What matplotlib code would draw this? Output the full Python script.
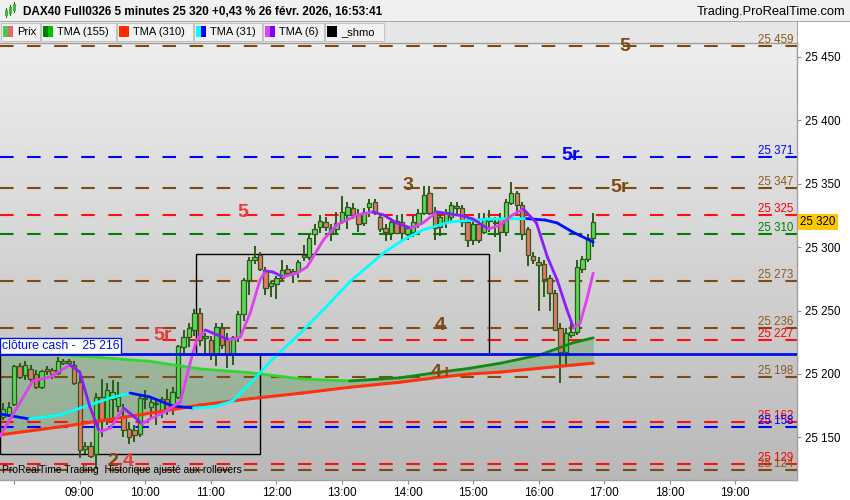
import matplotlib
matplotlib.use("Agg")
import matplotlib.pyplot as plt
import matplotlib.transforms as mtransforms
from matplotlib.patches import Rectangle
from matplotlib.collections import LineCollection
from matplotlib.colors import LinearSegmentedColormap
import numpy as np

plt.rcParams['font.family'] = ['Liberation Sans', 'DejaVu Sans']

# ---- data ----
first_bar = "07:50"   # 5 minute bars
opens = [25166, 25168, 25176, 25206, 25199, 25204, 25200, 25190, 25204, 25203,
         25201, 25209, 25210, 25207, 25194, 25141, 25143, 25137, 25182, 25164,
         25180, 25175, 25166, 25157, 25156, 25153, 25180, 25174, 25176, 25170,
         25180, 25172, 25182, 25221, 25229, 25235, 25248, 25228, 25227, 25216,
         25236, 25228, 25216, 25229, 25247, 25274, 25290, 25294, 25282, 25269,
         25271, 25276, 25283, 25280, 25281, 25292, 25292, 25310, 25316, 25320,
         25311, 25314, 25321, 25325, 25331, 25325, 25319, 25332, 25336, 25324,
         25315, 25311, 25321, 25320, 25310, 25312, 25318, 25327, 25343, 25328,
         25316, 25320, 25324, 25332, 25331, 25320, 25306, 25318, 25312, 25321,
         25320, 25323, 25312, 25335, 25343, 25333, 25314, 25293, 25288, 25287,
         25276, 25264, 25236, 25217, 25231, 25233, 25283, 25291, 25307]
highs = [25177, 25178, 25207, 25209, 25210, 25207, 25203, 25203, 25206, 25205,
         25213, 25212, 25212, 25210, 25200, 25146, 25146, 25185, 25196, 25193,
         25195, 25194, 25176, 25162, 25160, 25183, 25187, 25180, 25181, 25182,
         25188, 25190, 25223, 25235, 25240, 25251, 25252, 25232, 25230, 25240,
         25240, 25232, 25230, 25250, 25276, 25292, 25301, 25296, 25284, 25273,
         25277, 25290, 25286, 25283, 25290, 25302, 25310, 25318, 25325, 25324,
         25318, 25328, 25340, 25336, 25335, 25330, 25331, 25338, 25338, 25327,
         25318, 25323, 25325, 25326, 25317, 25325, 25330, 25348, 25348, 25332,
         25328, 25330, 25336, 25336, 25333, 25323, 25322, 25327, 25327, 25329,
         25324, 25327, 25338, 25351, 25344, 25336, 25316, 25296, 25292, 25290,
         25278, 25266, 25240, 25236, 25240, 25290, 25293, 25310, 25327]
lows = [25164, 25166, 25175, 25196, 25195, 25194, 25188, 25188, 25199, 25196,
        25199, 25207, 25207, 25191, 25134, 25137, 25134, 25125, 25150, 25160,
        25161, 25170, 25150, 25145, 25146, 25150, 25172, 25165, 25160, 25165,
        25168, 25168, 25180, 25216, 25221, 25230, 25222, 25215, 25211, 25206,
        25220, 25205, 25207, 25225, 25242, 25262, 25287, 25281, 25262, 25261,
        25259, 25273, 25277, 25272, 25276, 25289, 25290, 25302, 25311, 25313,
        25305, 25311, 25318, 25314, 25322, 25312, 25317, 25324, 25325, 25312,
        25305, 25306, 25310, 25306, 25306, 25308, 25315, 25325, 25325, 25306,
        25309, 25315, 25320, 25326, 25316, 25300, 25302, 25303, 25310, 25312,
        25308, 25296, 25309, 25333, 25325, 25306, 25285, 25287, 25250, 25261,
        25250, 25234, 25193, 25206, 25228, 25231, 25280, 25288, 25300]
closes = [25172, 25174, 25206, 25198, 25207, 25196, 25190, 25202, 25202, 25200,
          25210, 25210, 25209, 25193, 25140, 25143, 25135, 25182, 25163, 25187,
          25186, 25182, 25156, 25150, 25152, 25181, 25180, 25178, 25177, 25180,
          25172, 25186, 25222, 25229, 25236, 25248, 25227, 25230, 25215, 25237,
          25223, 25216, 25229, 25247, 25274, 25290, 25292, 25283, 25268, 25272,
          25276, 25282, 25280, 25281, 25288, 25294, 25307, 25314, 25321, 25316,
          25315, 25319, 25328, 25332, 25325, 25318, 25328, 25335, 25327, 25314,
          25312, 25320, 25311, 25311, 25315, 25320, 25327, 25341, 25327, 25315,
          25324, 25328, 25333, 25331, 25320, 25306, 25318, 25306, 25323, 25322,
          25319, 25312, 25336, 25343, 25333, 25310, 25294, 25290, 25286, 25275,
          25264, 25235, 25217, 25232, 25233, 25284, 25291, 25307, 25320]

# triangular moving averages (green 155 and red 310 share the same read-out times)
tma_long_times = ["07:47", "08:48", "09:18", "10:04", "10:50", "11:36", "12:24", "13:07",
                  "13:53", "14:30", "14:57", "15:25", "16:01", "16:31", "16:50"]
tma155 = [25217, 25215, 25213, 25210, 25204, 25201, 25196, 25194.5,
          25197, 25201.5, 25204.5, 25208.5, 25215, 25224.5, 25228.5]
tma310 = [25152, 25159, 25163, 25169, 25175.5, 25180.5, 25185, 25189.5,
          25193.5, 25197.5, 25200, 25201.5, 25204.5, 25207, 25208.5]

tma31_times = ["07:47", "08:14", "08:42", "09:09", "09:28", "09:46", "10:04", "10:25",
               "10:44", "11:02", "11:20", "11:39", "11:54", "12:22", "12:49", "13:07",
               "13:38", "13:56", "14:14", "14:39", "15:15", "15:49", "16:06", "16:17",
               "16:31", "16:50"]
tma31 = [25168.5, 25164.5, 25167.7, 25175.6, 25181.1, 25185.0, 25181.9, 25174.8,
         25173.2, 25174.0, 25178.7, 25195.3, 25209.5, 25232.3, 25256.0, 25272.6,
         25295.4, 25305.7, 25313.6, 25319.9, 25322.2, 25322.5, 25321.4, 25319.1,
         25312.0, 25304.1]

tma6_times = ["07:47", "08:17", "08:33", "08:51", "09:00", "09:09", "09:18", "09:28",
              "09:40", "09:49", "09:57", "10:04", "10:16", "10:32", "10:41", "10:47",
              "10:55", "11:06", "11:17", "11:27", "11:36", "11:45", "11:50", "11:57",
              "12:06", "12:19", "12:28", "12:43", "12:55", "13:14", "13:28", "13:38",
              "13:50", "14:03", "14:14", "14:27", "14:39", "14:51", "15:00", "15:14",
              "15:25", "15:36", "15:46", "15:58", "16:08", "16:17", "16:26", "16:32",
              "16:38", "16:44", "16:50"]
tma6 = [25151.0, 25194.5, 25197.6, 25207.1, 25201.6, 25174.8, 25154.3, 25157.4,
        25173.2, 25166.9, 25160.6, 25164.5, 25169.2, 25177.9, 25208.7, 25226.8,
        25234.7, 25230.8, 25226.8, 25229.2, 25248.1, 25274.1, 25281.2, 25280.4,
        25276.5, 25279.6, 25284.4, 25305.7, 25317.5, 25325.4, 25327.8, 25325.4,
        25319.1, 25315.1, 25319.1, 25327.8, 25326.2, 25324.6, 25322.2, 25314.3,
        25317.5, 25325.4, 25330.1, 25319.1, 25292.3, 25274.1, 25250.5, 25236.3,
        25240.2, 25258.4, 25279.6]

brown_levels = [25459, 25347, 25273, 25236, 25198, 25124]
red_levels = [25325, 25227, 25162, 25129]
blue_levels = [25371, 25158]
green_levels = [25310]
cash_close = 25216
last_price = 25320

# zones drawn as rectangles: (start, end, low, high)
zone_starts = ["07:47", "10:46"]
zone_ends = ["11:45", "15:15"]
zone_lows = [25137, 25216]
zone_highs = [25216, 25295]

mark_texts = ["5", "5r", "3", "5r", "5", "5r", "4", "4+", "2", "4"]
mark_times = ["17:19", "16:29", "14:00", "17:14", "11:29", "10:16", "14:30", "14:31", "09:30", "09:44"]
mark_prices = [25458, 25372, 25349, 25347, 25327, 25230, 25238, 25201, 25131, 25131]

hour_ticks = list(range(8, 20))
y_ticks = [25150, 25200, 25250, 25300, 25350, 25400, 25450]


def to_min(s):
    h, m = s.split(":")
    return int(h) * 60 + int(m)


def fmt_price(p):
    p = int(round(p))
    return f"{p // 1000} {p % 1000:03d}"


BROWN = '#7f4a0f'
RED = '#ff1010'
BLUE = '#0000ff'
GREEN = '#008000'
DARK = '#2c5a18'

W, H = 850, 500
fig = plt.figure(figsize=(W / 100, H / 100), dpi=100)


def px_box(x, y, w, h, **kw):
    fig.add_artist(Rectangle((x / W, 1 - (y + h) / H), w / W, h / H,
                             transform=fig.transFigure, **kw))


def px_text(x, y, s, **kw):
    fig.text(x / W, 1 - y / H, s, **kw)


# ---- header rows ----
px_box(0, 0, 850, 21, facecolor='#f0f0f0', edgecolor='none')
px_box(0, 21, 850, 1, facecolor='#a8a8a8', edgecolor='none')
px_box(0, 22, 797, 21, facecolor='#e6e6e6', edgecolor='none')
px_box(797, 22, 1, 21, facecolor='#a8a8a8', edgecolor='none')
# little candle icon
for cx, cy, ch in [(5, 10, 6), (9, 7, 7), (13, 4, 7)]:
    px_box(cx + 1, cy - 2, 0.8, ch + 4, facecolor=DARK, edgecolor='none')
    px_box(cx, cy, 3, ch, facecolor='#3cb83c', edgecolor='none')
px_text(23, 12, "DAX40 Full0326 5 minutes 25 320 +0,43 % 26 févr. 2026, 16:53:41",
        fontsize=8.5, fontweight='bold', va='center', ha='left')
px_text(845, 12, "Trading.ProRealTime.com", fontsize=9.3, va='center', ha='right')

legend_items = [("Prix", '#4fc84f', '#e06a6a', 0, 39),
                ("TMA (155)", '#008000', '#00c000', 40, 75),
                ("TMA (310)", '#ff2a00', '#ff2a00', 116, 76),
                ("TMA (31)", '#00ffff', '#0000ff', 193, 68),
                ("TMA (6)", '#dd44ff', '#8000ff', 262, 61),
                ("_shmo", '#000000', '#000000', 324, 59)]
for label, c1, c2, bx, bw in legend_items:
    px_box(bx + 0.5, 23, bw, 18, facecolor='#f2f2f2', edgecolor='#c4c4c4', lw=0.8)
    px_box(bx + 3, 26, 5, 11, facecolor=c1, edgecolor='none')
    px_box(bx + 8, 26, 5, 11, facecolor=c2, edgecolor='none')
    px_text(bx + 17, 32, label, fontsize=8, va='center', ha='left')

# ---- main price panel ----
ax = fig.add_axes([0, 20 / H, 797 / W, 437 / H])
ax.set_zorder(3)
x_lo, x_hi = to_min("07:47"), to_min("19:56") + 0.5
y_lo, y_hi = 25116.4, 25461.0

bg = LinearSegmentedColormap.from_list('bg', ['#b9b9b9', '#eeeeee'])
ax.imshow(np.linspace(0, 1, 256).reshape(-1, 1), extent=(x_lo, x_hi, y_lo, y_hi),
          origin='lower', aspect='auto', cmap=bg, zorder=0)

n = len(closes)
t_bar = to_min(first_bar) + 5 * np.arange(n)
t_long = np.array([to_min(s) for s in tma_long_times])
t31 = np.array([to_min(s) for s in tma31_times])
t6 = np.array([to_min(s) for s in tma6_times])

# fill between long averages
ax.fill_between(t_long, tma155, tma310, color='#2e8b2e', alpha=0.28, lw=0, zorder=1)

# horizontal levels
dash = (0, (6.5, 6.5))
for levels, col, lab_col in [(brown_levels, BROWN, '#8a5a26'), (red_levels, RED, '#ff0000'),
                             (blue_levels, BLUE, '#0000ff'), (green_levels, GREEN, '#008000')]:
    for p in levels:
        ax.axhline(p, color=col, lw=1.5, linestyle=dash, zorder=2)
        ax.text(793 / 797, p, fmt_price(p), transform=ax.get_yaxis_transform(),
                ha='right', va='bottom', fontsize=8.3, color=lab_col, zorder=6)

# zone rectangles
for s, e, lo, hi in zip(zone_starts, zone_ends, zone_lows, zone_highs):
    ax.add_patch(Rectangle((to_min(s), lo), to_min(e) - to_min(s), hi - lo,
                           fill=False, edgecolor='black', lw=1.0, zorder=3))

# candles
body_w = 4.0
for t, o, h, l, c in zip(t_bar, opens, highs, lows, closes):
    ax.vlines(t, l, h, color=DARK, lw=1.4, zorder=4)
    lo_b, hi_b = min(o, c), max(o, c)
    if hi_b - lo_b < 1.2:
        hi_b = lo_b + 1.2
    face = '#58d858' if c >= o else '#e5786b'
    ax.add_patch(Rectangle((t - body_w / 2, lo_b), body_w, hi_b - lo_b,
                           facecolor=face, edgecolor=DARK, lw=0.9, zorder=4.5))


def dir_line(t, v, up_col, down_col, lw, z):
    v = np.asarray(v, dtype=float)
    pts = np.column_stack([t, v]).reshape(-1, 1, 2)
    segs = np.concatenate([pts[:-1], pts[1:]], axis=1)
    cols = [up_col if b >= a else down_col for a, b in zip(v[:-1], v[1:])]
    ax.add_collection(LineCollection(segs, colors=cols, linewidths=lw,
                                     capstyle='round', joinstyle='round', zorder=z))


dir_line(t_long, tma155, '#108a10', '#2fd82f', 2.0, 5)
dir_line(t_long, tma310, '#ff3010', '#ff3010', 2.2, 5)
dir_line(t31, tma31, '#00ffff', '#0010ff', 2.0, 5)
dir_line(t6, tma6, '#e040f0', '#8a1cff', 2.0, 5.2)

# previous cash close
ax.axhline(cash_close, color='#0010e8', lw=2.0, zorder=5.5)
ax.text(0.002, cash_close + 1.2, "clôture cash -  " + fmt_price(cash_close),
        transform=ax.get_yaxis_transform(), ha='left', va='bottom', fontsize=8.8,
        color='#0010e8', zorder=7,
        bbox=dict(facecolor='white', edgecolor='#0010e8', lw=1.0, pad=1.5))

# level tags on the chart
mark_cols = [BROWN, BLUE, BROWN, BROWN, '#e83c3c', '#e83c3c', BROWN, BROWN, BROWN, '#e83c3c']
for s, tm, p, col in zip(mark_texts, mark_times, mark_prices, mark_cols):
    ax.text(to_min(tm), p, s, ha='center', va='center', fontsize=14,
            fontweight='bold', color=col, zorder=6, clip_on=False)

ax.text(0.003, 0.012, "ProRealTime Trading  Historique ajusté aux rollovers",
        transform=ax.transAxes, fontsize=7.4, color='black', ha='left', va='bottom', zorder=7)

# axes cosmetics
ax.set_xlim(x_lo, x_hi)
ax.set_ylim(y_lo, y_hi)
ax.set_xticks([h * 60 for h in hour_ticks])
ax.set_xticklabels(["" if h == 8 else f"{h:02d}:00" for h in hour_ticks], fontsize=8.5)
ax.yaxis.tick_right()
ax.set_yticks(y_ticks)
ax.set_yticklabels([fmt_price(v) for v in y_ticks], fontsize=8.3)
ax.tick_params(axis='both', direction='out', length=3, width=0.8, color='#8c8c8c', pad=2)
ax.tick_params(axis='y', pad=3)
ax.spines['left'].set_visible(False)
for side in ['right', 'bottom', 'top']:
    ax.spines[side].set_color('#a0a0a0')
    ax.spines[side].set_linewidth(1.0)

# current price flag on the right axis
ax.text(1.004, last_price, fmt_price(last_price),
        transform=mtransforms.blended_transform_factory(ax.transAxes, ax.transData),
        ha='left', va='center', fontsize=8.3, color='black', zorder=8, clip_on=False,
        bbox=dict(facecolor='#ffc800', edgecolor='none', pad=1.6))

fig.savefig("out.png", dpi=100)
